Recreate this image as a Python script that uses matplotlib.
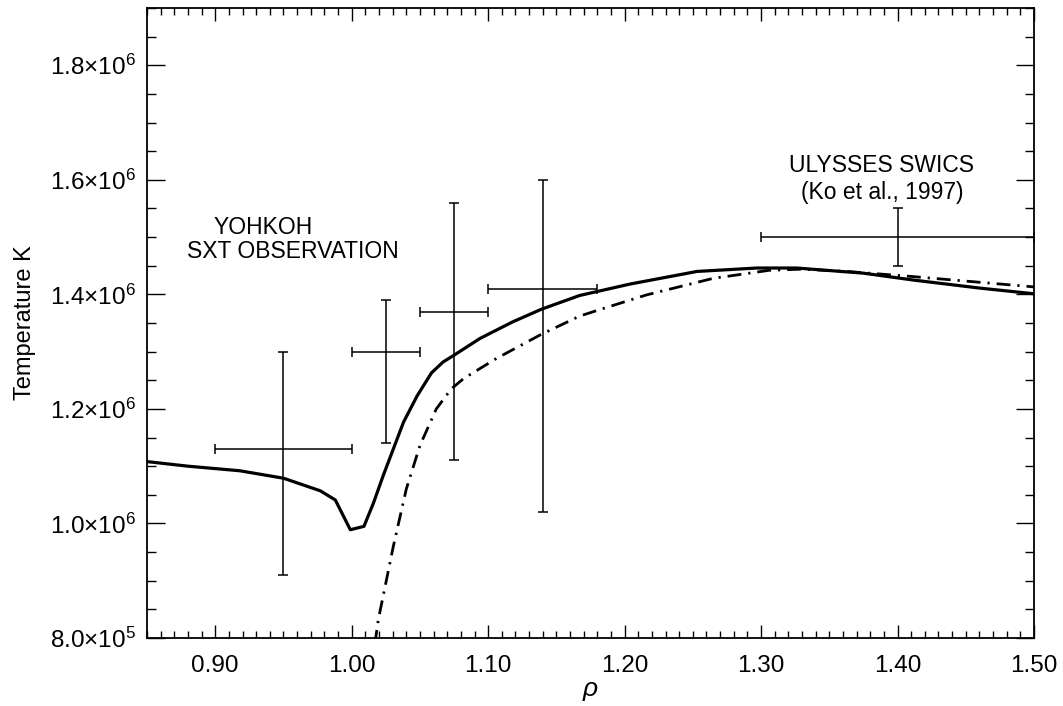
import numpy as np
import matplotlib
matplotlib.use('Agg')
import matplotlib.pyplot as plt
from matplotlib.ticker import MultipleLocator, FuncFormatter

plt.rcParams['font.family'] = ['Liberation Sans', 'DejaVu Sans']
plt.rcParams['mathtext.fontset'] = 'custom'
plt.rcParams['mathtext.rm'] = 'Liberation Sans'
plt.rcParams['mathtext.it'] = 'Liberation Sans:italic'

# model curve (solid)
rho_solid = [0.85, 0.88, 0.918, 0.95, 0.977, 0.988, 0.999, 1.009, 1.016, 1.023,
             1.038, 1.048, 1.0585, 1.067, 1.0745, 1.094, 1.118, 1.139, 1.167,
             1.204, 1.253, 1.297, 1.326, 1.375, 1.4115, 1.460, 1.50]
T_solid = [1.108, 1.100, 1.092, 1.079, 1.057, 1.041, 0.989, 0.995, 1.036, 1.083,
           1.177, 1.223, 1.263, 1.282, 1.293, 1.323, 1.352, 1.374, 1.398,
           1.418, 1.440, 1.446, 1.446, 1.437, 1.425, 1.411, 1.401]

# model curve (dash-dot)
rho_dd = [1.017, 1.0195, 1.0305, 1.040, 1.050, 1.062, 1.073, 1.082, 1.106, 1.138,
          1.167, 1.180, 1.204, 1.216, 1.265, 1.306, 1.330, 1.363, 1.4115, 1.50]
T_dd = [0.79, 0.832, 0.960, 1.060, 1.136, 1.200, 1.235, 1.253, 1.288, 1.329,
        1.362, 1.372, 1.390, 1.399, 1.428, 1.442, 1.444, 1.440, 1.431, 1.413]

# observations (center, x range, y range)
obs_rho = [0.95, 1.025, 1.075, 1.14, 1.40]
obs_rho_lo = [0.90, 1.00, 1.05, 1.10, 1.30]
obs_rho_hi = [1.00, 1.05, 1.10, 1.18, 1.50]
obs_T = [1.13, 1.30, 1.37, 1.41, 1.50]
obs_T_lo = [0.91, 1.14, 1.11, 1.02, 1.45]
obs_T_hi = [1.30, 1.39, 1.56, 1.60, 1.55]

sc = 1e6
fig = plt.figure(figsize=(10.63, 7.06), dpi=100)
ax = fig.add_axes([0.1383, 0.0963, 0.9727 - 0.1383, 0.9887 - 0.0963])

ax.plot(rho_solid, np.array(T_solid) * sc, color='black', lw=2.3)
l, = ax.plot(rho_dd, np.array(T_dd) * sc, color='black', lw=2.0)
l.set_dashes((5, 2.5, 0.8, 2.5))

x = np.array(obs_rho)
y = np.array(obs_T) * sc
xerr = [x - np.array(obs_rho_lo), np.array(obs_rho_hi) - x]
yerr = [y - np.array(obs_T_lo) * sc, np.array(obs_T_hi) * sc - y]
ax.errorbar(x, y, xerr=xerr, yerr=yerr, fmt='none', ecolor='black',
            elinewidth=1.1, capsize=3.5, capthick=1.1)

ax.set_xlim(0.85, 1.50)
ax.set_ylim(8e5, 1.9e6)

ax.xaxis.set_major_locator(MultipleLocator(0.1))
ax.xaxis.set_minor_locator(MultipleLocator(0.01))
ax.yaxis.set_major_locator(MultipleLocator(2e5))
ax.yaxis.set_minor_locator(MultipleLocator(5e4))
ax.xaxis.set_major_formatter(FuncFormatter(lambda v, p: '%.2f' % v))

def yfmt(v, p):
    e = int(np.floor(np.log10(v)))
    m = v / 10 ** e
    return r'$%.1f{\times}10^{%d}$' % (m, e)

ax.yaxis.set_major_formatter(FuncFormatter(yfmt))

ax.tick_params(axis='both', which='both', direction='in', top=True, right=True,
               width=1.0, labelsize=17.5)
ax.tick_params(axis='x', which='major', length=9.5, pad=12)
ax.tick_params(axis='x', which='minor', length=5)
ax.tick_params(axis='y', which='major', length=13, pad=8)
ax.tick_params(axis='y', which='minor', length=6.5)
for s in ax.spines.values():
    s.set_linewidth(1.3)

ax.set_xlabel(r'$\rho$', fontsize=19, labelpad=2)
ax.set_ylabel('Temperature K', fontsize=17, labelpad=10)

ax.text(0.8984, 1.516e6, 'YOHKOH', fontsize=16.5, ha='left', va='center')
ax.text(0.8793, 1.475e6, 'SXT OBSERVATION', fontsize=16.5, ha='left', va='center')
ax.text(1.388, 1.625e6, 'ULYSSES SWICS', fontsize=16.5, ha='center', va='center')
ax.text(1.389, 1.577e6, '(Ko et al., 1997)', fontsize=16.5, ha='center', va='center')

fig.savefig('out.png', dpi=100)
